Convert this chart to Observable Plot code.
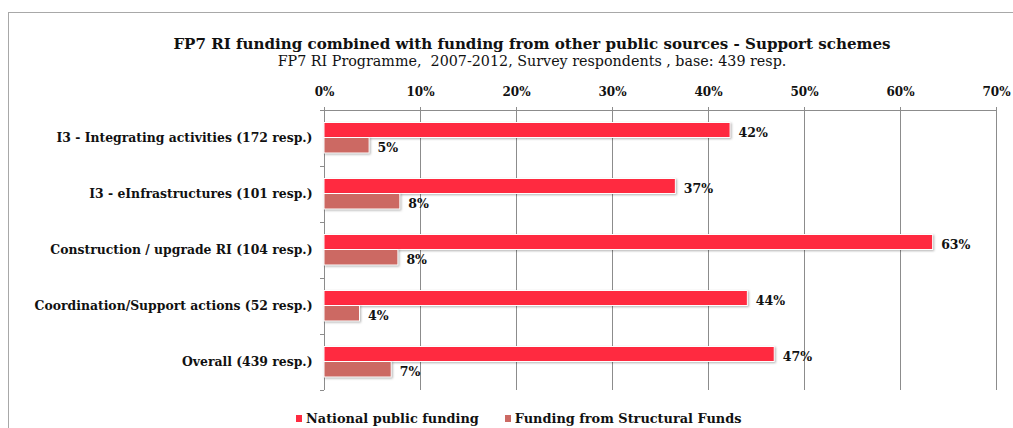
<!DOCTYPE html>
<html>
<head>
<meta charset="utf-8">
<script src="https://cdn.jsdelivr.net/npm/d3@7"></script>
<script src="https://cdn.jsdelivr.net/npm/@observablehq/plot@0.6"></script>
<style>
  html, body { margin: 0; padding: 0; background: #fff; }
  body { width: 1013px; height: 428px; position: relative; overflow: hidden; font-family: "DejaVu Serif", serif; color: #111; }
  #frame { position: absolute; left: 8px; top: 12px; width: 1020px; height: 500px; border-left: 1px solid #a8a8a8; border-top: 1px solid #a8a8a8; }
  #title { position: absolute; left: 0; width: 1064px; top: 35px; text-align: center; font-weight: bold; font-size: 15.1px; line-height: 18px; white-space: nowrap; }
  #subtitle { position: absolute; left: 0; width: 1064px; top: 53px; text-align: center; font-size: 14.3px; line-height: 16px; white-space: nowrap; }
  #chart { position: absolute; left: 0; top: 70px; }
  #chart svg g[aria-label="rect"] rect { filter: drop-shadow(1px 1.5px 1px rgba(0,0,0,0.3)); }
  #legend { position: absolute; left: 296px; top: 411px; display: flex; gap: 26px; font-weight: bold; font-size: 12.9px; line-height: 15px; white-space: nowrap; }
  #legend .item { display: flex; align-items: center; }
  #legend .sw { width: 6px; height: 7px; margin-right: 4px; }
</style>
</head>
<body>
<div id="frame"></div>
<div id="title">FP7 RI funding combined with funding from other public sources - Support schemes</div>
<div id="subtitle">FP7 RI Programme,&nbsp; 2007-2012, Survey respondents , base: 439 resp.</div>
<div id="chart"></div>
<div id="legend"></div>
<script>
const categories = [
  "I3 - Integrating activities (172 resp.)",
  "I3 - eInfrastructures (101 resp.)",
  "Construction / upgrade RI (104 resp.)",
  "Coordination/Support actions (52 resp.)",
  "Overall (439 resp.)"
];
const national = [42.3, 36.6, 63.4, 44.1, 46.9];
const structural = [4.7, 7.9, 7.7, 3.7, 7.0];
const xTicks = [0, 10, 20, 30, 40, 50, 60, 70];
const seriesNames = ["National public funding", "Funding from Structural Funds"];
const colors = ["#FF2A40", "#CC6963"];

const rows = categories.map((c, i) => ({cat: c, i, national: national[i], structural: structural[i]}));
const boundaries = d3.range(categories.length + 1);
const centers = categories.map((c, i) => i + 0.5);
const gray = "#8c8c8c";

const plot = Plot.plot({
  width: 1013,
  height: 330,
  marginTop: 40,
  marginBottom: 10,
  marginLeft: 324,
  marginRight: 17,
  x: {domain: [0, 70]},
  y: {domain: [0, categories.length], reverse: true},
  style: {fontFamily: "DejaVu Serif", fontSize: "12px", fontWeight: "bold", color: "#111", background: "transparent"},
  marks: [
    Plot.gridX(xTicks, {stroke: gray, strokeOpacity: 1}),
    Plot.ruleY([0], {stroke: gray}),
    Plot.ruleX([0], {stroke: gray}),
    Plot.axisX(xTicks, {anchor: "top", tickSize: 4, tickPadding: 11, tickFormat: d => d + "%", stroke: gray, strokeOpacity: 1, label: null, fontWeight: "bold"}),
    Plot.axisY(boundaries, {tickSize: 4, tickFormat: () => "", stroke: gray, strokeOpacity: 1, label: null}),
    Plot.axisY(centers, {tickSize: 0, tickPadding: 12, tickFormat: d => categories[Math.floor(d)], label: null, fontWeight: "bold", fontSize: 12.4}),
    Plot.rect(rows, {x1: 0, x2: "national", y1: "i", y2: d => d.i + 1, insetTop: 12.5, insetBottom: 28.5, fill: colors[0], stroke: "white", strokeWidth: 1}),
    Plot.rect(rows, {x1: 0, x2: "structural", y1: "i", y2: d => d.i + 1, insetTop: 27.5, insetBottom: 13, fill: colors[1], stroke: "white", strokeWidth: 1}),
    Plot.text(rows, {x: "national", y: d => d.i + 0.5, text: d => Math.round(d.national) + "%", dx: 8, dy: -6, textAnchor: "start", fontWeight: "bold", fontSize: 12.5, fill: "#111"}),
    Plot.text(rows, {x: "structural", y: d => d.i + 0.5, text: d => Math.round(d.structural) + "%", dx: 8, dy: 9, textAnchor: "start", fontWeight: "bold", fontSize: 12.5, fill: "#111"})
  ]
});
document.getElementById("chart").appendChild(plot);

const legend = d3.select("#legend");
seriesNames.forEach((name, k) => {
  const item = legend.append("div").attr("class", "item");
  item.append("div").attr("class", "sw").style("background", colors[k]);
  item.append("span").text(name);
});
</script>
</body>
</html>
